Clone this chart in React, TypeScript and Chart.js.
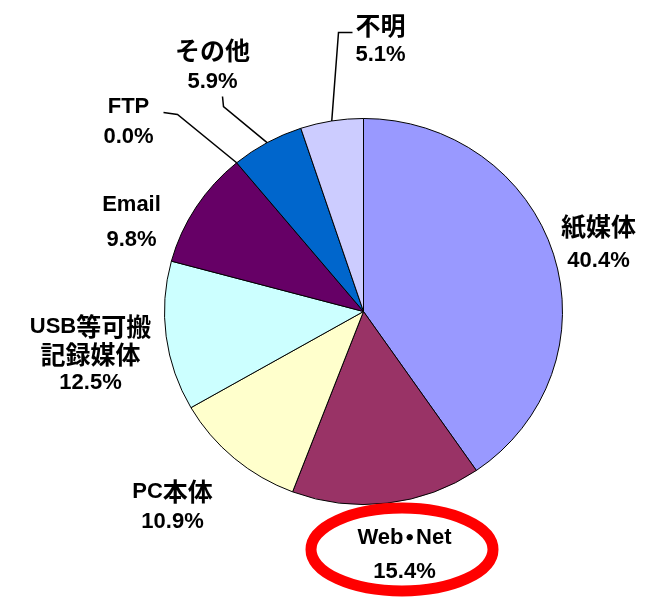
import React, { useEffect, useRef } from "react";
import { Chart, registerables } from "chart.js";
Chart.register(...registerables);

const CATEGORIES = ["紙媒体", "Web・Net", "PC本体", "USB等可搬\n記録媒体", "Email", "FTP", "その他", "不明"];
const VALUES = [40.4, 15.4, 10.9, 12.5, 9.8, 0.0, 5.9, 5.1];
const COLORS = ["#9999FF", "#993366", "#FFFFCC", "#CCFFFF", "#660066", "#FF8080", "#0066CC", "#CCCCFF"];
const VALUE_LABELS = VALUES.map((v) => v.toFixed(1) + "%");

// vertical squash of the pie (the reference pie is slightly oval)
const Y_SCALE = 0.97;

// label block placement relative to pie center (px): x of block center, y of first line, line height
const LABEL_LAYOUT = [
  { dx: 235, dy: -85, lh: 34 },
  { dx: 41, dy: 226, lh: 34 },
  { dx: -191, dy: 180, lh: 30 },
  { dx: -273, dy: 15, lh: 28 },
  { dx: -232, dy: -107, lh: 35 },
  { dx: -235, dy: -205, lh: 30 },
  { dx: -151, dy: -261, lh: 31 },
  { dx: 17, dy: -286, lh: 29 },
];
// leader line elbow points relative to pie center (px)
const LEADERS: Record<number, [number, number][]> = {
  5: [[-186, -197], [-200, -199]],
  6: [[-140, -205], [-141, -215]],
  7: [[-25, -279], [-11, -279]],
};
const HIGHLIGHT = { index: 1, dx: 38.5, dy: 238, rx: 91, ry: 41.5, width: 11, color: "#FF0000" };

const LATIN_FONT = "bold 22px 'Liberation Sans', Arial, sans-serif";
const CJK_FONT = "bold 25px 'Noto Sans CJK JP', sans-serif";
const isCJK = (ch: string) => /[\u3000-\u9fff\uff00-\uffef]/.test(ch);

function drawMixed(ctx: CanvasRenderingContext2D, text: string, cx: number, cy: number) {
  const runs: { t: string; cjk: boolean; narrow: boolean }[] = [];
  for (const ch of text) {
    const c = isCJK(ch);
    const narrow = ch === "・";
    const last = runs[runs.length - 1];
    if (last && last.cjk === c && !narrow && !last.narrow) last.t += ch;
    else runs.push({ t: ch, cjk: c, narrow });
  }
  let total = 0;
  const widths = runs.map((r) => {
    ctx.font = r.cjk ? CJK_FONT : LATIN_FONT;
    let w = ctx.measureText(r.t).width;
    if (r.narrow) w *= 0.5;
    total += w;
    return w;
  });
  let x = cx - total / 2;
  ctx.textAlign = "left";
  ctx.textBaseline = "middle";
  runs.forEach((r, i) => {
    ctx.font = r.cjk ? CJK_FONT : LATIN_FONT;
    ctx.fillText(r.t, r.narrow ? x - widths[i] / 2 : x, cy);
    x += widths[i];
  });
}

const squashPlugin = {
  id: "squash",
  beforeDatasetsDraw(chart: any) {
    const arcs = chart.getDatasetMeta(0).data;
    if (!arcs.length) return;
    const { y } = arcs[0].getProps(["x", "y"], true);
    const ctx = chart.ctx;
    ctx.save();
    ctx.translate(0, y);
    ctx.scale(1, Y_SCALE);
    ctx.translate(0, -y);
  },
  afterDatasetsDraw(chart: any) {
    if (!chart.getDatasetMeta(0).data.length) return;
    chart.ctx.restore();
  },
};

const labelPlugin = {
  id: "pieLabels",
  afterDraw(chart: any) {
    const ctx: CanvasRenderingContext2D = chart.ctx;
    const arcs = chart.getDatasetMeta(0).data;
    if (!arcs.length) return;
    const p0 = arcs[0].getProps(["x", "y"], true);
    const cx = p0.x, cy = p0.y;
    ctx.save();
    // leader lines
    ctx.strokeStyle = "#000";
    ctx.lineWidth = 1.5;
    Object.keys(LEADERS).forEach((k) => {
      const i = Number(k);
      const a = arcs[i].getProps(["startAngle", "endAngle", "outerRadius"], true);
      const mid = (a.startAngle + a.endAngle) / 2;
      ctx.beginPath();
      ctx.moveTo(cx + Math.cos(mid) * a.outerRadius, cy + Math.sin(mid) * a.outerRadius * Y_SCALE);
      LEADERS[i].forEach(([dx, dy]) => ctx.lineTo(cx + dx, cy + dy));
      ctx.stroke();
    });
    // labels
    ctx.fillStyle = "#000";
    CATEGORIES.forEach((cat, i) => {
      const L = LABEL_LAYOUT[i];
      const lines = [...cat.split("\n"), VALUE_LABELS[i]];
      lines.forEach((ln, j) => drawMixed(ctx, ln, cx + L.dx, cy + L.dy + j * L.lh));
    });
    // highlight ellipse
    ctx.strokeStyle = HIGHLIGHT.color;
    ctx.lineWidth = HIGHLIGHT.width;
    ctx.beginPath();
    ctx.ellipse(cx + HIGHLIGHT.dx, cy + HIGHLIGHT.dy, HIGHLIGHT.rx, HIGHLIGHT.ry, 0, 0, Math.PI * 2);
    ctx.stroke();
    ctx.restore();
  },
};

export default function App() {
  const ref = useRef<HTMLCanvasElement>(null);
  useEffect(() => {
    if (!ref.current) return;
    const chart = new Chart(ref.current, {
      type: "pie",
      data: {
        labels: CATEGORIES,
        datasets: [
          {
            data: VALUES,
            backgroundColor: COLORS,
            borderColor: "#000",
            borderWidth: 1,
          },
        ],
      },
      options: {
        responsive: false,
        animation: false,
        layout: { padding: { left: 164, right: 86, top: 112, bottom: 87 } },
        plugins: { legend: { display: false }, tooltip: { enabled: false } },
      },
      plugins: [squashPlugin, labelPlugin],
    });
    return () => chart.destroy();
  }, []);
  return (
    <div style={{ position: "absolute", left: 0, top: 0, width: 649, height: 598, background: "#fff" }}>
      <canvas ref={ref} width={649} height={598} style={{ display: "block" }} />
    </div>
  );
}
